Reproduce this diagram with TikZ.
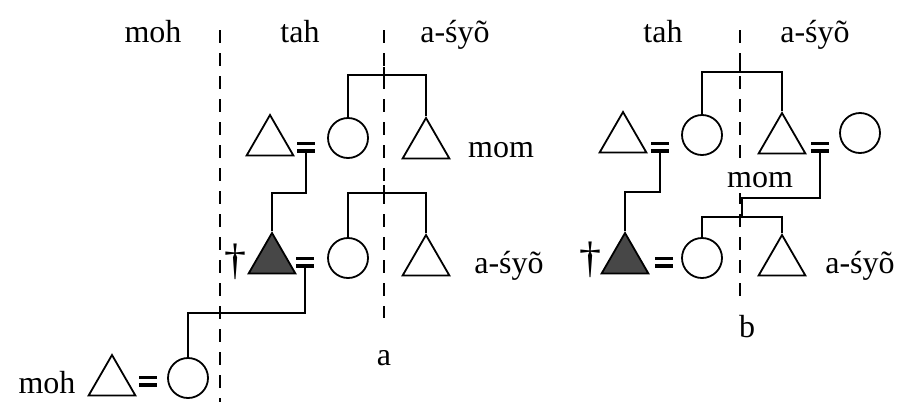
\documentclass[tikz,border=0pt]{standalone}
\usepackage{fontspec}
\setmainfont{Liberation Serif}
\usetikzlibrary{shapes.geometric}

\begin{document}
\begin{tikzpicture}[x=1pt, y=-1pt, line width=1.8pt,
  every node/.style={font=\fontsize{32}{38}\selectfont}]
\tikzset{male/.style={draw, regular polygon, regular polygon sides=3,
  minimum size=54pt, inner sep=0pt},
  dead/.style={male, fill=black!72},
  female/.style={draw, circle, minimum size=40pt, inner sep=0pt},
  wed/.style={fill=white, minimum width=18pt, minimum height=10pt, inner sep=0pt,
    path picture={\draw[line width=6pt]
      (path picture bounding box.north west) -- (path picture bounding box.north east)
      (path picture bounding box.south west) -- (path picture bounding box.south east);}},
  word/.style={anchor=base, inner sep=0pt},
  cross/.style={inner sep=0pt, font=\fontsize{44}{44}\selectfont},
  side/.style={dash pattern=on 13pt off 10pt, line width=2.4pt}}
\useasboundingbox (0,0) rectangle (901,402);

% a
\node[word] (mohA) at (153,42) {moh};
\node[word] (tahA) at (300,42) {tah};
\node[word] (asyoA) at (455,42) {a-śyõ};
\draw[side] (220,30) -- (220,402);
\draw[side] (384,30) -- (384,318);

\node[male] (ta1) at (270,142) {};
\node[wed] (ea1) at (306,147) {};
\node[female] (ca1) at (348,138) {};
\node[male] (ta2) at (426,145) {};
\node[word] (momA) at (501,157) {mom};

\node[cross] (xa) at (235,262) {†};
\node[dead] (tf1) at (272,260) {};
\node[wed] (ea2) at (305,262) {};
\node[female] (ca2) at (348,258) {};
\node[male] (ta3) at (426,262) {};
\node[word] (asyoA2) at (509,273) {a-śyõ};

\node[word] (mohA2) at (47,393) {moh};
\node[male] (ta4) at (112,382) {};
\node[wed] (ea3) at (148,381) {};
\node[female] (ca3) at (188,378) {};
\node[word] (labA) at (384,365) {a};

\coordinate (sib1) at (384,75);
\coordinate (sib2) at (384,193);
\draw (ca1.north) |- (sib1) -| (ta2.corner 1);
\draw (sib1) -- ++(0,-8);
\draw (ea1.south) |- (tf1.corner 1 |- sib2) -- (tf1.corner 1);
\draw (ca2.north) |- (sib2) -| (ta3.corner 1);
\draw (sib2) -- ++(0,-8);
\draw (ea2.south) |- (ca3.north |- 0,313) -- (ca3.north);

% b
\node[word] (tahB) at (663,42) {tah};
\node[word] (asyoB) at (815,42) {a-śyõ};
\draw[side] (740,30) -- (740,300);

\node[male] (tb1) at (623,139) {};
\node[wed] (eb1) at (660,147) {};
\node[female] (cb1) at (702,135) {};
\node[male] (tb2) at (782,140) {};
\node[wed] (eb2) at (820,147) {};
\node[female] (cb2) at (860,133) {};
\node[word, fill=white, inner ysep=6pt, inner xsep=2pt] (momB) at (760,187) {mom};

\node[cross] (xb) at (590,260) {†};
\node[dead] (tf2) at (625,260) {};
\node[wed] (eb3) at (664,262) {};
\node[female] (cb3) at (702,258) {};
\node[male] (tb3) at (782,262) {};
\node[word] (asyoB2) at (860,273) {a-śyõ};
\node[word] (labB) at (747,337) {b};

\coordinate (sib3) at (740,72);
\coordinate (sib4) at (742,217);
\draw (cb1.north) |- (sib3) -| (tb2.corner 1);
\draw (sib3) -- ++(0,-8);
\draw (eb1.south) |- (tf2.corner 1 |- 0,192) -- (tf2.corner 1);
\draw (eb2.south) |- (sib4 |- 0,198) -- (sib4);
\draw (cb3.north) |- (sib4) -| (tb3.corner 1);
\end{tikzpicture}
\end{document}
